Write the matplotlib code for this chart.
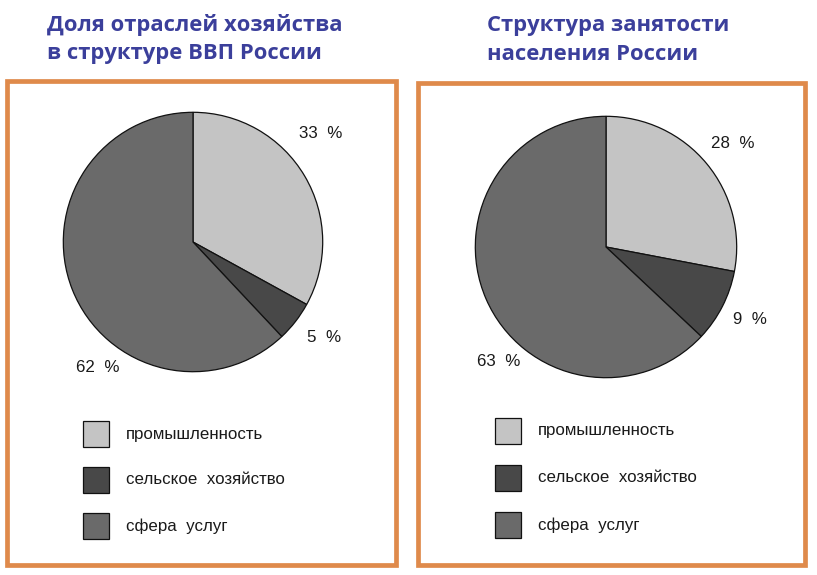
import matplotlib
matplotlib.use("Agg")
import matplotlib.pyplot as plt
from matplotlib.patches import Rectangle

# data
sectors = ["промышленность", "сельское  хозяйство", "сфера  услуг"]
gdp_share = [33, 5, 62]
employment_share = [28, 9, 63]
titles = ["Доля отраслей хозяйства\nв структуре ВВП России",
          "Структура занятости\nнаселения России"]

colors = ["#c4c4c4", "#484848", "#6a6a6a"]
orange = "#df8a4b"
title_blue = "#3b3f9b"

W, H = 817, 575
fig = plt.figure(figsize=(W / 100, H / 100), dpi=100, facecolor="white")

# full-figure axes in pixel units for frames, legends and text
bg = fig.add_axes([0, 0, 1, 1])
bg.set_xlim(0, W)
bg.set_ylim(H, 0)
bg.axis("off")

panels = [
    dict(values=gdp_share, title=titles[0], title_xy=(47, 39),
         frame=(7, 80.5, 389, 484), center=(193, 242), radius=131,
         label_xy=[(299, 133), (307, 337), (76, 367)],
         legend_x=83, legend_y=[421, 467, 513], text_x=126),
    dict(values=employment_share, title=titles[1], title_xy=(487, 40),
         frame=(418, 83, 387, 481.5), center=(606, 247), radius=132,
         label_xy=[(711, 144), (733, 320), (477, 362)],
         legend_x=495, legend_y=[418, 465, 512], text_x=538),
]

label_font = dict(family=["Liberation Sans", "DejaVu Sans"], fontsize=12.2, color="#1a1a1a")

for p in panels:
    # title
    bg.text(p["title_xy"][0], p["title_xy"][1], p["title"], ha="left", va="center",
            fontsize=15.8, fontweight="bold", family=["Open Sans", "DejaVu Sans"],
            color=title_blue, linespacing=1.5)

    # orange frame
    fx, fy, fw, fh = p["frame"]
    bg.add_patch(Rectangle((fx, fy), fw, fh, fill=False, edgecolor=orange, linewidth=3.4))

    # pie
    cx, cy = p["center"]
    r = p["radius"]
    ax = fig.add_axes([(cx - r) / W, 1 - (cy + r) / H, 2 * r / W, 2 * r / H])
    ax.pie(p["values"], colors=colors, startangle=90, counterclock=False,
           wedgeprops=dict(edgecolor="#111111", linewidth=0.9))
    ax.set_xlim(-1.01, 1.01)
    ax.set_ylim(-1.01, 1.01)
    ax.axis("off")

    # percent labels
    for val, (lx, ly) in zip(p["values"], p["label_xy"]):
        bg.text(lx, ly, "%d  %%" % val, ha="left", va="center", **label_font)

    # legend
    for name, col, ly in zip(sectors, colors, p["legend_y"]):
        bg.add_patch(Rectangle((p["legend_x"], ly), 26, 26, facecolor=col,
                               edgecolor="#111111", linewidth=0.9))
        bg.text(p["text_x"], ly + 13, name, ha="left", va="center", **label_font)

fig.savefig("out.png", dpi=100, facecolor="white")
